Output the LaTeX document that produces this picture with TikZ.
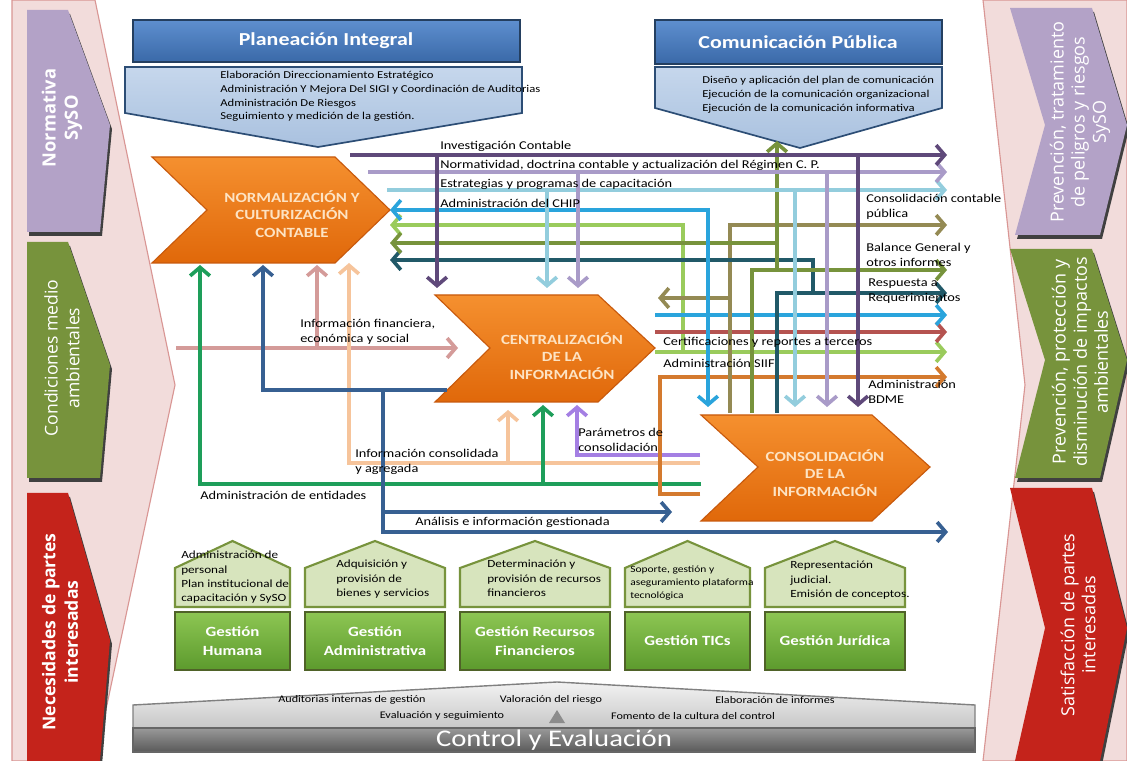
\documentclass[tikz,border=0pt]{standalone}
\usepackage{fontspec}
\setmainfont{Carlito}[FakeStretch=1.2]
\newfontfamily\tagfont{Open Sans}
\usetikzlibrary{arrows.meta}

\definecolor{bandpink}{HTML}{F2DCDB}
\definecolor{bandline}{HTML}{D99694}
\definecolor{tagpur}{HTML}{B3A2C7}
\definecolor{taggrn}{HTML}{77933C}
\definecolor{tagred}{HTML}{C4231B}
\definecolor{hdrtop}{HTML}{5E8FCF}
\definecolor{hdrbot}{HTML}{3A69A8}
\definecolor{hdrline}{HTML}{243F60}
\definecolor{pentop}{HTML}{C6D7EC}
\definecolor{penbot}{HTML}{A9C1DF}
\definecolor{penline}{HTML}{2C4D75}
\definecolor{orgtop}{HTML}{F5902F}
\definecolor{orgbot}{HTML}{E0680A}
\definecolor{orgline}{HTML}{C8590C}
\definecolor{chevtxt}{HTML}{FDE3C3}
\definecolor{housefill}{HTML}{D7E4BD}
\definecolor{houseline}{HTML}{77933C}
\definecolor{gtop}{HTML}{8DC653}
\definecolor{gbot}{HTML}{5C9A2D}
\definecolor{gline}{HTML}{4F6228}
\definecolor{cInv}{HTML}{5F497A}
\definecolor{cNor}{HTML}{A99BC8}
\definecolor{cEst}{HTML}{93CDDD}
\definecolor{cChip}{HTML}{2AA4DC}
\definecolor{cLgr}{HTML}{9ACB5C}
\definecolor{cOli}{HTML}{77933C}
\definecolor{cTeal}{HTML}{215968}
\definecolor{cKha}{HTML}{948A54}
\definecolor{cRed}{HTML}{B55350}
\definecolor{cOra}{HTML}{D47A2E}
\definecolor{cGrn}{HTML}{1E9E5A}
\definecolor{cDbl}{HTML}{376092}
\definecolor{cPnk}{HTML}{D49B99}
\definecolor{cPch}{HTML}{F6C49B}
\definecolor{cVio}{HTML}{A47FE3}

\begin{document}
\begin{tikzpicture}[x=0.025cm,y=-0.025cm,>={Straight Barb[length=6pt,width=14pt]}]
        \tikzstyle{ar} = [line width=2.6pt,->]
        \tikzstyle{lbl} = [anchor=west,inner sep=0pt,align=left,font=\fontsize{8.5}{11}\selectfont]
        \tikzstyle{tagtxt} = [rotate=90,align=center,text=white,font=\tagfont\fontsize{12.5}{15.5}\selectfont]
        \tikzstyle{chev} = [draw=orgline,line width=0.8pt,top color=orgtop,bottom color=orgbot]
        \tikzstyle{chevtext} = [align=center,text=chevtxt,font=\bfseries\fontsize{10}{12.5}\selectfont]
        \tikzstyle{hdr} = [draw=hdrline,line width=1.2pt,top color=hdrtop,bottom color=hdrbot]
        \tikzstyle{hdrtext} = [text=white,font=\bfseries\fontsize{13}{15}\selectfont]
        \tikzstyle{pent} = [draw=penline,line width=1.2pt,top color=pentop,bottom color=penbot]
        \tikzstyle{pentext} = [anchor=north west,inner sep=0pt,align=left,font=\fontsize{7.5}{9.8}\selectfont]
        \tikzstyle{house} = [draw=houseline,line width=1.5pt,fill=housefill]
        \tikzstyle{housetext} = [anchor=north west,inner sep=0pt,align=left,font=\fontsize{7.8}{10.2}\selectfont]
        \tikzstyle{gbox} = [draw=gline,line width=1pt,top color=gtop,bottom color=gbot]
        \tikzstyle{gtext} = [align=center,text=white,font=\bfseries\fontsize{10}{13}\selectfont]
        \tikzstyle{ctext} = [inner sep=0pt,font=\fontsize{7.2}{9}\selectfont]

        \useasboundingbox (0,0) rectangle (1127,761);
        \fill[white] (0,0) rectangle (1127,761);

        \draw[fill=bandpink,draw=bandline,line width=0.8pt] (12,0) -- (95,0) -- (175,385) -- (95,761) -- (12,761) -- cycle;
        \draw[fill=bandpink,draw=bandline,line width=0.8pt] (983,0) -- (1127,0) -- (1127,761) -- (983,761) -- (1025,385) -- cycle;

        \foreach \col/\ya/\yb/\ym in {tagpur/10/232/125, taggrn/242/478/365, tagred/493/761/640}{
          \fill[black!75] (29,\ya+4) -- (70,\ya+4) -- (112,\ym+4) -- (102,\yb+4) -- (29,\yb+4) -- cycle;
          \fill[\col] (27,\ya) -- (68,\ya) -- (110,\ym) -- (100,\yb) -- (27,\yb) -- cycle;
        }
        \foreach \col/\ya/\yb/\ym in {tagpur/8/235/125, taggrn/249/478/360, tagred/488/761/628}{
          \fill[black!75] (1012,\ya+4) -- (1094,\ya+4) -- (1129,\ym+4) -- (1102,\yb+4) -- (1017,\yb+4) -- (1047,\ym+4) -- cycle;
          \fill[\col] (1010,\ya) -- (1092,\ya) -- (1127,\ym) -- (1100,\yb) -- (1015,\yb) -- (1045,\ym) -- cycle;
        }
        \node[tagtxt,font=\tagfont\bfseries\fontsize{13}{16}\selectfont] (tl1) at (62,118) {Normativa\\SySO};
        \node[tagtxt] (tl2) at (62,358) {Condiciones medio\\ambientales};
        \node[tagtxt,font=\tagfont\bfseries\fontsize{12.5}{16}\selectfont] (tl3) at (60,632) {Necesidades de partes\\interesadas};
        \node[tagtxt,font=\tagfont\fontsize{12.8}{15}\selectfont] (tr1) at (1080,122) {Prevención, tratamiento\\de peligros y riesgos\\SySO};
        \node[tagtxt,font=\tagfont\fontsize{12.8}{15}\selectfont] (tr2) at (1080,362) {Prevención, protección y\\disminución de impactos\\ambientales};
        \node[tagtxt,font=\tagfont\fontsize{12.8}{15}\selectfont] (tr3) at (1078,625) {Satisfacción de partes\\interesadas};

        \draw[hdr] (133,20) rectangle (520,62);
        \node[hdrtext] (plan) at (326,41) {Planeación Integral};
        \draw[pent] (125,67) -- (522,67) -- (522,113) -- (318,147) -- (125,113) -- cycle;
        \node[pentext] (plantxt) at (220,71) {Elaboración Direccionamiento Estratégico\\Administración Y Mejora Del SIGI y Coordinación de Auditorias\\Administración De Riesgos\\Seguimiento y medición de la gestión.};
        \draw[hdr] (655,20) rectangle (942,64);
        \node[hdrtext] (com) at (798,42) {Comunicación Pública};
        \draw[pent] (655,67) -- (942,67) -- (942,108) -- (800,148) -- (655,108) -- cycle;
        \node[pentext] (comtxt) at (702,76) {Diseño y aplicación del plan de comunicación\\Ejecución de la comunicación organizacional\\Ejecución de la comunicación informativa};

        \draw[chev] (152,157) -- (335,157) -- (390,210) -- (335,263) -- (152,263) -- (207,210) -- cycle;
        \node[chevtext] (norm) at (292,214) {NORMALIZACIÓN Y\\CULTURIZACIÓN\\CONTABLE};
        \draw[chev] (435,295) -- (598,295) -- (655,348) -- (598,402) -- (435,402) -- (490,348) -- cycle;
        \node[chevtext] (cent) at (562,356) {CENTRALIZACIÓN\\DE LA\\INFORMACIÓN};
        \draw[chev] (701,415) -- (872,415) -- (930,467) -- (872,521) -- (701,521) -- (758,467) -- cycle;
        \node[chevtext] (cons) at (825,473) {CONSOLIDACIÓN\\DE LA\\INFORMACIÓN};

        \coordinate (i0) at (350,155); \coordinate (i1) at (947,155); \coordinate (i2) at (437,288); \coordinate (i3) at (858,407);
        \coordinate (n0) at (368,172); \coordinate (n1) at (947,172); \coordinate (n2) at (578,288); \coordinate (n3) at (827,407);
        \coordinate (e0) at (387,190); \coordinate (e1) at (947,190); \coordinate (e2) at (547,288); \coordinate (e3) at (795,407);
        \coordinate (c0) at (708,407); \coordinate (c1) at (390,210);
        \coordinate (l0) at (655,352); \coordinate (l1) at (947,352); \coordinate (l2) at (683,352); \coordinate (l3) at (390,225);
        \coordinate (o0) at (752,413); \coordinate (o1) at (947,270); \coordinate (o2) at (777,141); \coordinate (o3) at (390,243);
        \coordinate (t0) at (777,413); \coordinate (t1) at (947,293); \coordinate (t2) at (813,293); \coordinate (t3) at (390,260);
        \coordinate (k0) at (730,413); \coordinate (k1) at (947,225); \coordinate (k2) at (658,298);
        \coordinate (b0) at (655,315); \coordinate (b1) at (947,315);
        \coordinate (r0) at (655,332); \coordinate (r1) at (947,332);
        \coordinate (u0) at (700,494); \coordinate (u1) at (660,494); \coordinate (u2) at (947,377);
        \coordinate (a0) at (701,484); \coordinate (a1) at (200,265); \coordinate (a2) at (543,405);
        \coordinate (d0) at (447,390); \coordinate (d1) at (263,265); \coordinate (d2) at (383,532); \coordinate (d3) at (948,532); \coordinate (d4) at (672,512);
        \coordinate (p0) at (176,348); \coordinate (p1) at (458,348); \coordinate (p2) at (317,265);
        \coordinate (q0) at (700,463); \coordinate (q1) at (349,263); \coordinate (q2) at (508,410);
        \coordinate (v0) at (700,455); \coordinate (v1) at (577,405);

        \draw[ar,cPnk] (p0) -- (p1);
        \draw[ar,cPnk] (p0 -| p2) -- (p2);
        \draw[ar,cPch] (q0) -| (q1);
        \draw[ar,cPch] (q0 -| q2) -- (q2);
        \draw[ar,cVio] (v0) -| (v1);
        \draw[ar,cGrn] (a0) -| (a1);
        \draw[ar,cGrn] (a0 -| a2) -- (a2);
        \draw[ar,cDbl] (d0) -| (d1);
        \draw[ar,cDbl] (d0 -| d2) -- (d2) -- (d3);
        \draw[ar,cDbl] (d2 |- d4) -- (d4);
        \draw[ar,cOra] (u0) -- (u1) |- (u2);
        \draw[ar,cLgr] (l0) -- (l1);
        \draw[ar,cLgr] (l2) |- (l3);
        \draw[ar,cRed] (r0) -- (r1);
        \draw[ar,cChip] (b0) -- (b1);
        \draw[ar,cKha] (k0) |- (k1);
        \draw[ar,cKha] (k0 |- k2) -- (k2);
        \draw[ar,cTeal] (t0) |- (t1);
        \draw[ar,cTeal] (t2) |- (t3);
        \draw[ar,cOli] (o0) |- (o1);
        \draw[ar,cOli] (o0 |- o1) -| (o2);
        \draw[ar,cOli] (o2 |- o3) -- (o3);
        \draw[ar,<->,cChip] (c0) |- (c1);
        \draw[ar,cEst] (e0) -- (e1);
        \draw[ar,cEst] (e0 -| e2) -- (e2);
        \draw[ar,cEst] (e0 -| e3) -- (e3);
        \draw[ar,cNor] (n0) -- (n1);
        \draw[ar,cNor] (n0 -| n2) -- (n2);
        \draw[ar,cNor] (n0 -| n3) -- (n3);
        \draw[ar,cInv] (i0) -- (i1);
        \draw[ar,cInv] (i0 -| i2) -- (i2);
        \draw[ar,cInv] (i0 -| i3) -- (i3);

        \node[lbl] (lInv) at (440,146) {Investigación Contable};
        \node[lbl] (lNor) at (440,165) {Normatividad, doctrina contable y actualización del Régimen C. P.};
        \node[lbl] (lEst) at (440,184) {Estrategias y programas de capacitación};
        \node[lbl] (lChip) at (440,203) {Administración del CHIP};
        \node[lbl] (lCcp) at (866,207) {Consolidación contable\\pública};
        \node[lbl] (lBal) at (866,255) {Balance General y\\ otros informes};
        \node[lbl] (lRes) at (868,291) {Respuesta a\\Requerimientos};
        \node[lbl] (lBdme) at (868,392) {Administración\\ BDME};
        \node[lbl] (lCert) at (663,342) {Certificaciones y reportes a terceros};
        \node[lbl] (lSiif) at (663,363) {Administración SIIF};
        \node[lbl] (lFin) at (300,332) {Información financiera,\\económica y social};
        \node[lbl] (lPar) at (578,440) {Parámetros de\\consolidación};
        \node[lbl] (lAgr) at (355,462) {Información consolidada\\y agregada};
        \node[lbl] (lEnt) at (200,495) {Administración de entidades};
        \node[lbl] (lAna) at (415,522) {Análisis e información gestionada};

        \foreach \xa/\xb/\idx/\lab in {175/290/1/{Gestión\\Humana}, 305/445/2/{Gestión\\Administrativa}, 460/610/3/{Gestión Recursos\\Financieros}, 625/750/4/{Gestión TICs}, 765/905/5/{Gestión Jurídica}}{
          \draw[house] (\xa,607) -- (\xa,568) -- ({(\xa+\xb)/2},541) -- (\xb,568) -- (\xb,607) -- cycle;
          \draw[gbox] (\xa,612) rectangle (\xb,670);
          \node[gtext] (g\idx) at ({(\xa+\xb)/2},641) {\lab};
        }
        \node[housetext] (h1) at (181,551) {Administración de\\personal\\Plan institucional de\\capacitación y SySO};
        \node[housetext] (h2) at (336,560) {Adquisición y\\provisión de\\bienes y servicios};
        \node[housetext] (h3) at (487,560) {Determinación y\\provisión de recursos\\financieros};
        \node[housetext,font=\fontsize{6.8}{9}\selectfont] (h4) at (630,566) {Soporte, gestión y\\aseguramiento plataforma\\tecnológica};
        \node[housetext] (h5) at (790,561) {Representación\\judicial.\\Emisión de conceptos.};

        \draw[draw=black!50,line width=1pt,top color=black!5,bottom color=black!22] (133,705) -- (557,682) -- (975,705) -- (975,728) -- (133,728) -- cycle;
        \draw[draw=black!60,line width=1pt,top color=black!40,bottom color=black!65] (133,728) rectangle (975,752);
        \fill[black!45] (549,723) -- (557,710) -- (565,723) -- cycle;
        \node[text=white,font=\fontsize{17}{20}\selectfont] (ctrl) at (554,740) {Control y Evaluación};
        \node[ctext] (c1t) at (352,700) {Auditorias internas de gestión};
        \node[ctext] (c2t) at (551,700) {Valoración del riesgo};
        \node[ctext] (c3t) at (775,700) {Elaboración de informes};
        \node[ctext] (c4t) at (442,716) {Evaluación y seguimiento};
        \node[ctext] (c5t) at (693,716) {Fomento de la cultura del control};
\end{tikzpicture}
\end{document}
